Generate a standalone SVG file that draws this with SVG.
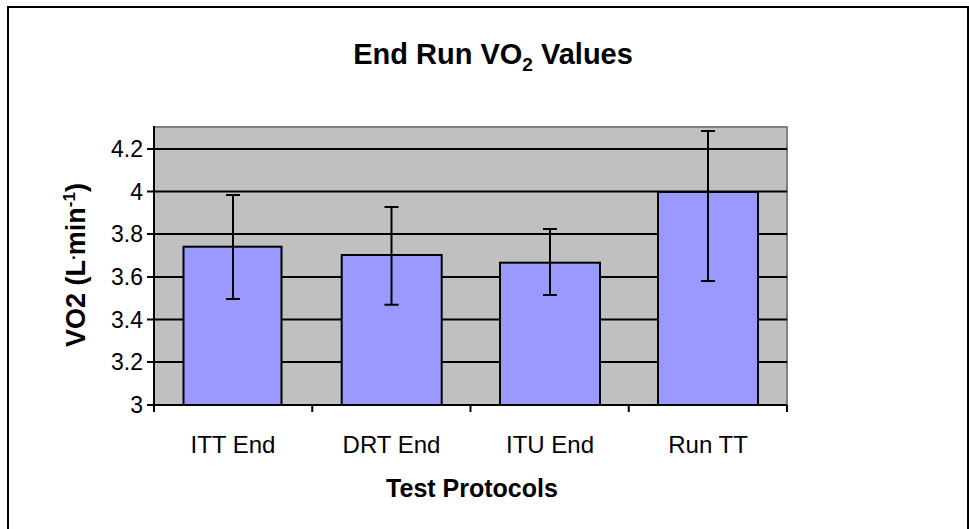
<svg xmlns="http://www.w3.org/2000/svg" width="969" height="529" viewBox="0 0 969 529">
<style>
.t{font-family:"Liberation Sans",Arial,sans-serif;fill:#000}
.b{font-weight:bold}
.tick{font-size:23px;text-anchor:end}
.cat{font-size:24px;text-anchor:middle}
.grid{stroke:#000;stroke-width:2;fill:none}
.bar{fill:#9999FF;stroke:#000;stroke-width:2}
.err{stroke:#000;stroke-width:2;fill:none}
</style>
<rect x="8" y="7" width="960" height="530" fill="#fff" stroke="#000" stroke-width="2"/>
<g id="title"><text class="t b" x="493" y="64" font-size="29" text-anchor="middle">End Run VO<tspan font-size="19" dy="7">2</tspan><tspan dy="-7"> Values</tspan></text></g>
<g id="plot-area">
<rect x="154" y="127" width="633" height="278" fill="#C0C0C0"/>
<polyline points="154,127 787,127 787,405" fill="none" stroke="#808080" stroke-width="2"/>
<g class="grid">
<line x1="154" y1="149" x2="787" y2="149"/>
<line x1="154" y1="191.5" x2="787" y2="191.5"/>
<line x1="154" y1="234" x2="787" y2="234"/>
<line x1="154" y1="277" x2="787" y2="277"/>
<line x1="154" y1="319.5" x2="787" y2="319.5"/>
<line x1="154" y1="362" x2="787" y2="362"/>
</g>
</g>
<g id="bars">
<rect id="bar-itt" class="bar" x="183.5" y="246.7" width="98" height="158.3"/>
<rect id="bar-drt" class="bar" x="341.7" y="255" width="100" height="150"/>
<rect id="bar-itu" class="bar" x="500" y="262.7" width="100" height="142.3"/>
<rect id="bar-run" class="bar" x="658" y="192" width="100" height="213"/>
</g>
<g id="connectors">
<path class="err" d="M233,195V299M226,195H240M226,299H240"/>
<path class="err" d="M391.5,207V304.7M384.5,207H398.5M384.5,304.7H398.5"/>
<path class="err" d="M550,229V295M543,229H557M543,295H557"/>
<path class="err" d="M708,131V281M701,131H715M701,281H715"/>
</g>
<g id="axes" class="grid">
<line x1="154" y1="126" x2="154" y2="406"/>
<line x1="153" y1="405" x2="787" y2="405"/>
<path d="M147,149H154M147,191.5H154M147,234H154M147,277H154M147,319.5H154M147,362H154M147,405H154"/>
<path d="M154,405V412M312.25,405V412M470.5,405V412M628.75,405V412M787,405V412"/>
</g>
<g id="y-ticks" class="t tick">
<text x="143" y="157">4.2</text>
<text x="143" y="199.5">4</text>
<text x="143" y="242">3.8</text>
<text x="143" y="285">3.6</text>
<text x="143" y="327.5">3.4</text>
<text x="143" y="370">3.2</text>
<text x="143" y="413">3</text>
</g>
<g id="x-cats" class="t cat">
<text x="233" y="453">ITT End</text>
<text x="391.5" y="453">DRT End</text>
<text x="550" y="453">ITU End</text>
<text x="708" y="453">Run TT</text>
</g>
<g id="y-title"><text class="t b" transform="translate(85,265) rotate(-90)" font-size="27" text-anchor="middle">VO2 (L<tspan font-size="17" dy="-10">.</tspan><tspan dy="10">min</tspan><tspan font-size="17" dy="-10">-1</tspan><tspan dy="10">)</tspan></text></g>
<g id="x-title"><text class="t b" x="472" y="497" font-size="25" text-anchor="middle">Test Protocols</text></g>
</svg>
